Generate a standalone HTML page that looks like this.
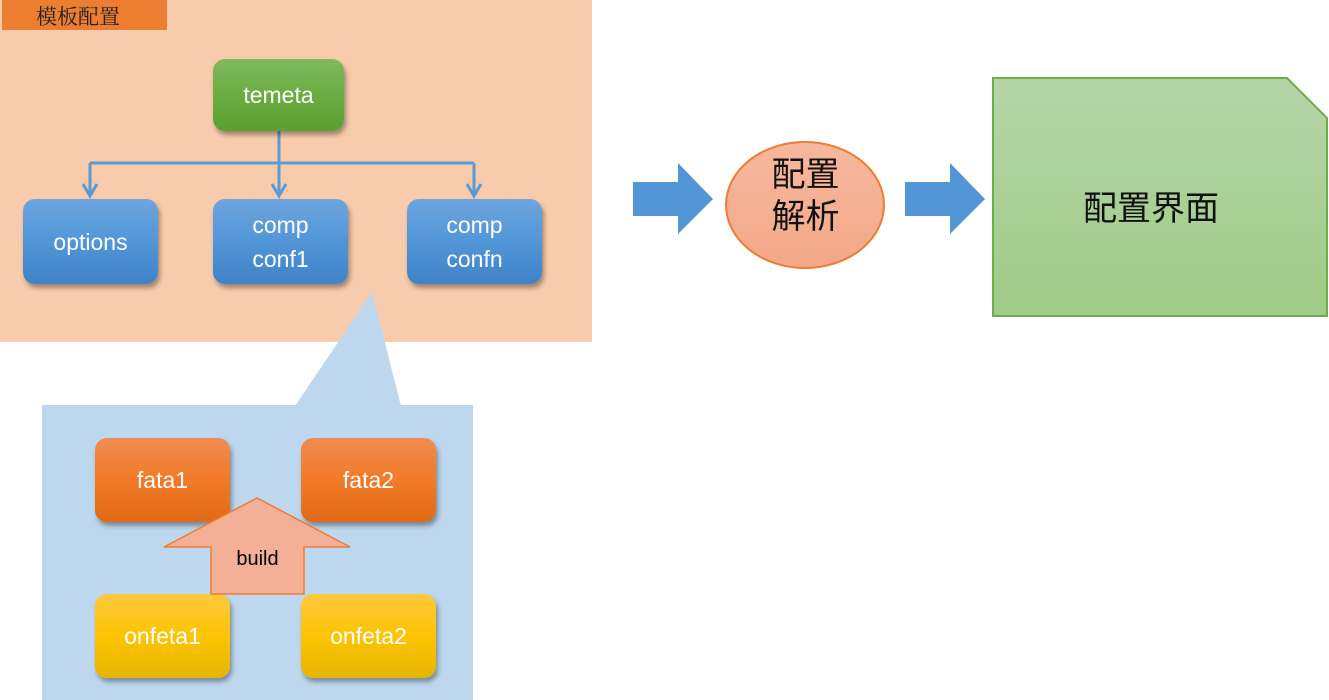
<!DOCTYPE html>
<html><head><meta charset="utf-8"><style>
body{margin:0;width:1329px;height:700px;background:#fff;position:relative;overflow:hidden;font-family:"Liberation Sans","Noto Sans CJK SC",sans-serif}
.a{position:absolute}
.n{position:absolute;border-radius:12px;color:#fff;font-size:23px;display:flex;align-items:center;justify-content:center;text-align:center;line-height:34px;box-shadow:2px 4px 5px rgba(0,0,0,.35)}
.b{background:linear-gradient(#6da5de,#5296d8 50%,#3f83c6)}
.g{background:linear-gradient(#80b95e,#6aad42 50%,#5b9f2f)}
.o{background:linear-gradient(#f08c52,#f27a28 50%,#e06a16)}
.y{background:linear-gradient(#ffc93f,#fcc402 50%,#e7b402)}
</style></head><body>
<div class="a" style="left:0;top:0;width:592px;height:342px;background:#f7cbac"></div>
<div class="a" style="left:2px;top:0;width:165px;height:30px;background:#ed7d31;font-size:21px;line-height:32px;color:#222;font-family:'Noto Serif CJK SC',serif;padding-left:34px;box-sizing:border-box">模板配置</div>
<div class="a" style="left:42px;top:405px;width:431px;height:295px;background:#bdd7ee"></div>
<svg class="a" style="left:0;top:0" width="1329" height="700">
<polygon points="372,292 295,406 401,406" fill="#bdd7ee"/>
<g stroke="#5b9bd5" stroke-width="3" fill="none">
<path d="M279,131V163M90,163H474M90,163V196M279,163V196M474,163V196"/>
<path d="M83,184L90,196L97,184M272,184L279,196L286,184M467,184L474,196L481,184"/>
</g>
<polygon points="633,182 678,182 678,163 713,199 678,234 678,216 633,216" fill="#5296d8"/>
<polygon points="905,182 950,182 950,163 985,199 950,234 950,216 905,216" fill="#5296d8"/>
<defs><linearGradient id="gg" x1="0" y1="0" x2="0" y2="1"><stop offset="0" stop-color="#b5d5a7"/><stop offset="1" stop-color="#9fcb87"/></linearGradient>
<linearGradient id="cg" x1="0" y1="0" x2="0" y2="1"><stop offset="0" stop-color="#f6b89e"/><stop offset="1" stop-color="#f4a888"/></linearGradient></defs>
<polygon points="993,78 1287,78 1327,118 1327,316 993,316" fill="url(#gg)" stroke="#70ad47" stroke-width="2"/>
<ellipse cx="805" cy="205" rx="79" ry="63" fill="url(#cg)" stroke="#ed7d31" stroke-width="2"/>
</svg>
<div class="a" style="left:726px;top:151px;width:159px;text-align:center;font-size:34px;line-height:42px;color:#111;font-family:'Noto Sans CJK SC',sans-serif">配置<br>解析</div>
<div class="a" style="left:993px;top:180px;width:316px;text-align:center;font-size:34px;line-height:52px;color:#111;font-family:'Noto Sans CJK SC',sans-serif">配置界面</div>
<div class="n g" style="left:213px;top:59px;width:131px;height:72px">temeta</div>
<div class="n b" style="left:23px;top:199px;width:135px;height:85px">options</div>
<div class="n b" style="left:213px;top:199px;width:135px;height:85px">comp<br>conf1</div>
<div class="n b" style="left:407px;top:199px;width:135px;height:85px">comp<br>confn</div>
<div class="n o" style="left:95px;top:438px;width:135px;height:84px">fata1</div>
<div class="n o" style="left:301px;top:438px;width:135px;height:84px">fata2</div>
<div class="n y" style="left:95px;top:594px;width:135px;height:84px">onfeta1</div>
<div class="n y" style="left:301px;top:594px;width:135px;height:84px">onfeta2</div>
<svg class="a" style="left:0;top:0" width="1329" height="700"><polygon points="257,498 350,547 304,547 304,594 211,594 211,547 164,547" fill="#f4b096" stroke="#ed7d31" stroke-width="1.5"/></svg>
<div class="a" style="left:211px;top:545px;width:93px;text-align:center;font-size:20px;line-height:28px;color:#000">build</div>
</body></html>
